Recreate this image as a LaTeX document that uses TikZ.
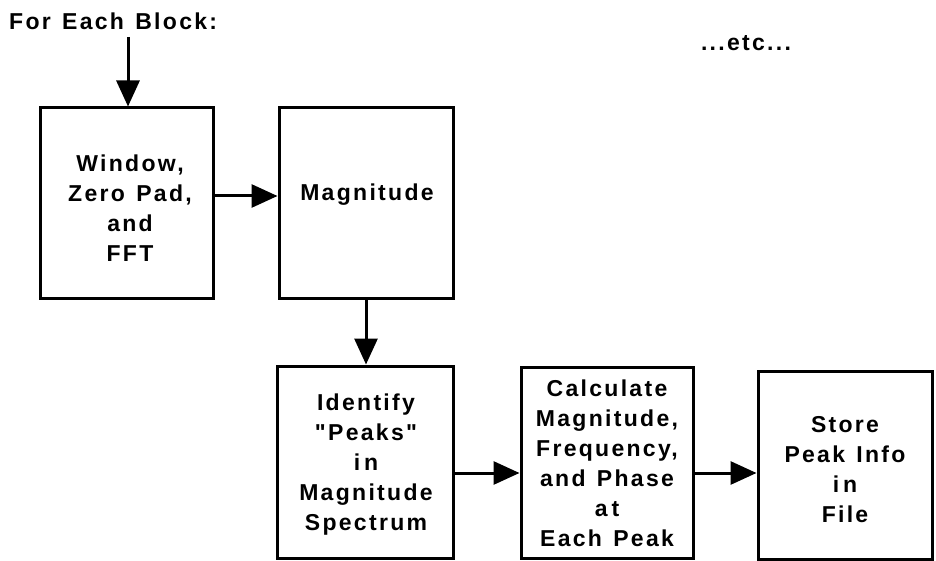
\documentclass[tikz,border=0pt]{standalone}
\usepackage{fontspec}
\setmainfont{Liberation Sans}
\newfontfamily\lblfont{Liberation Sans}[LetterSpace=10,WordSpace=1.3]
\usetikzlibrary{arrows.meta}
\begin{document}
\begin{tikzpicture}[x=1pt,y=-1pt,
  boxstyle/.style={draw,line width=3pt,inner sep=0pt},
  txt/.style={font=\lblfont\bfseries\fontsize{23}{30}\selectfont,align=center,inner sep=0pt},
  flow/.style={line width=3pt,-{Triangle[length=26pt,width=23pt]}}]
\useasboundingbox (0,0) rectangle (936,561);
\fill[white] (0,0) rectangle (936,561);
% boxes
\node[boxstyle,minimum width=173pt,minimum height=190pt] (b1) at (126.5,203) {};
\node[boxstyle,minimum width=174pt,minimum height=190pt] (b2) at (366,203) {};
\node[boxstyle,minimum width=176pt,minimum height=192pt] (b3) at (365,462) {};
\node[boxstyle,minimum width=172pt,minimum height=191pt] (b4) at (607,462.5) {};
\node[boxstyle,minimum width=174pt,minimum height=188pt] (b5) at (845,465) {};
% texts
\node[txt,anchor=west] (forblk) at (9,21) {For Each Block:};
\node[txt] (etc) at (746,43) {...etc...};
\node[txt] (t1) at (130,208) {Window,\\Zero Pad,\\and\\FFT};
\node[txt] (t2) at (367,195) {Magnitude};
\node[txt] (t3) at (366,465) {Identify\\"Peaks"\\i\kern4pt n\\Magnitude\\Spectrum};
\node[txt] (t4) at (607,463) {Calculate\\Magnitude,\\Frequency,\\and Phase\\a\kern4pt t\\Each Peak};
\node[txt] (t5) at (845,470) {Store\\Peak Info\\i\kern4pt n\\File};
% connectors
\coordinate (s0) at (128,37);
\coordinate (a1) at (0,196);
\coordinate (a3) at (0,473);
\draw[flow] (s0) -- (s0 |- b1.north);
\draw[flow] (b1.east |- a1) -- (b2.west |- a1);
\draw[flow] (b2.south) -- (b2.south |- b3.north);
\draw[flow] (b3.east |- a3) -- (b4.west |- a3);
\draw[flow] (b4.east |- a3) -- (b5.west |- a3);
\end{tikzpicture}
\end{document}
